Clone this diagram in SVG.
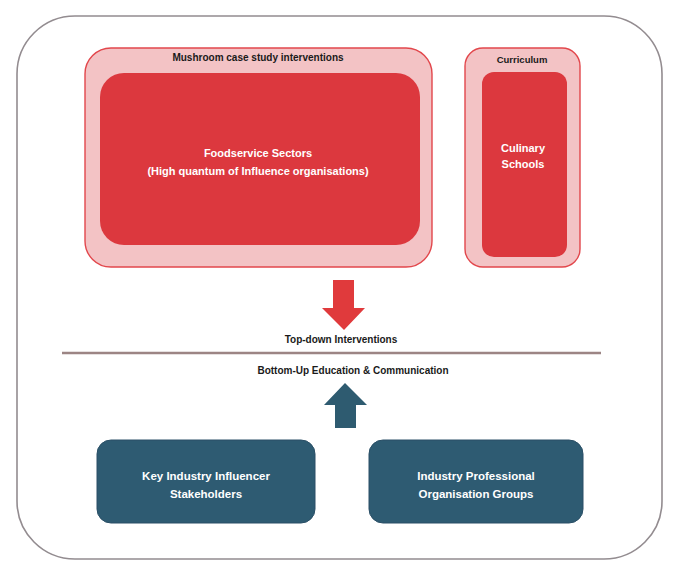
<svg xmlns="http://www.w3.org/2000/svg" width="685" height="567" viewBox="0 0 685 567">
<style>
.frame{fill:#ffffff;stroke:#938c90;stroke-width:1.6}
.outer{fill:#f3c3c5;stroke:#e2474c;stroke-width:1.4}
.inner{fill:#dc383e;stroke:none}
.blue{fill:#2e5b72;stroke:#2a4f66;stroke-width:1}
.lbl{font-family:"Liberation Sans",Arial,sans-serif;font-weight:bold;fill:#1a1a1a;text-anchor:middle}
.wt{font-family:"Liberation Sans",Arial,sans-serif;font-weight:bold;fill:#ffffff;text-anchor:middle}
</style>
<rect width="685" height="567" fill="#ffffff"/>
<rect class="frame" x="17" y="16" width="645" height="543" rx="58" ry="58"/>
<g id="mushroom">
<rect class="outer" x="85" y="48" width="347" height="219" rx="26" ry="26"/>
<text class="lbl" x="258" y="61" font-size="10">Mushroom case study interventions</text>
</g>
<g id="foodservice">
<rect class="inner" x="100" y="73" width="320" height="172" rx="24" ry="24"/>
<text class="wt" x="258" y="157" font-size="11">Foodservice Sectors</text>
<text class="wt" x="258" y="175" font-size="11">(High quantum of Influence organisations)</text>
</g>
<g id="curriculum">
<rect class="outer" x="465" y="48" width="115" height="219" rx="18" ry="18"/>
<text class="lbl" x="522" y="63" font-size="9.5">Curriculum</text>
</g>
<g id="culinary">
<rect class="inner" x="482" y="72" width="85" height="185" rx="12" ry="12"/>
<text class="wt" x="523" y="152" font-size="11">Culinary</text>
<text class="wt" x="523" y="168" font-size="11">Schools</text>
</g>
<g id="key-industry">
<rect class="blue" x="97" y="440" width="218" height="83" rx="14" ry="14"/>
<text class="wt" x="206" y="480" font-size="11.5">Key Industry Influencer</text>
<text class="wt" x="206" y="498" font-size="11.5">Stakeholders</text>
</g>
<g id="industry-professional">
<rect class="blue" x="369" y="440" width="214" height="83" rx="14" ry="14"/>
<text class="wt" x="476" y="480" font-size="11.5">Industry Professional</text>
<text class="wt" x="476" y="498" font-size="11.5">Organisation Groups</text>
</g>
<g id="connectors">
<polygon points="333,280 354,280 354,308 365,308 344,330 322,308 333,308" fill="#e03a3c"/>
<text class="lbl" x="341" y="343" font-size="10">Top-down Interventions</text>
<line x1="62" y1="353" x2="601" y2="353" stroke="#9c8584" stroke-width="2.5"/>
<text class="lbl" x="353" y="374" font-size="10">Bottom-Up Education &amp; Communication</text>
<polygon points="345,383 367,405 356,405 356,428 335,428 335,405 324,405" fill="#2e5b70"/>
</g>
</svg>
